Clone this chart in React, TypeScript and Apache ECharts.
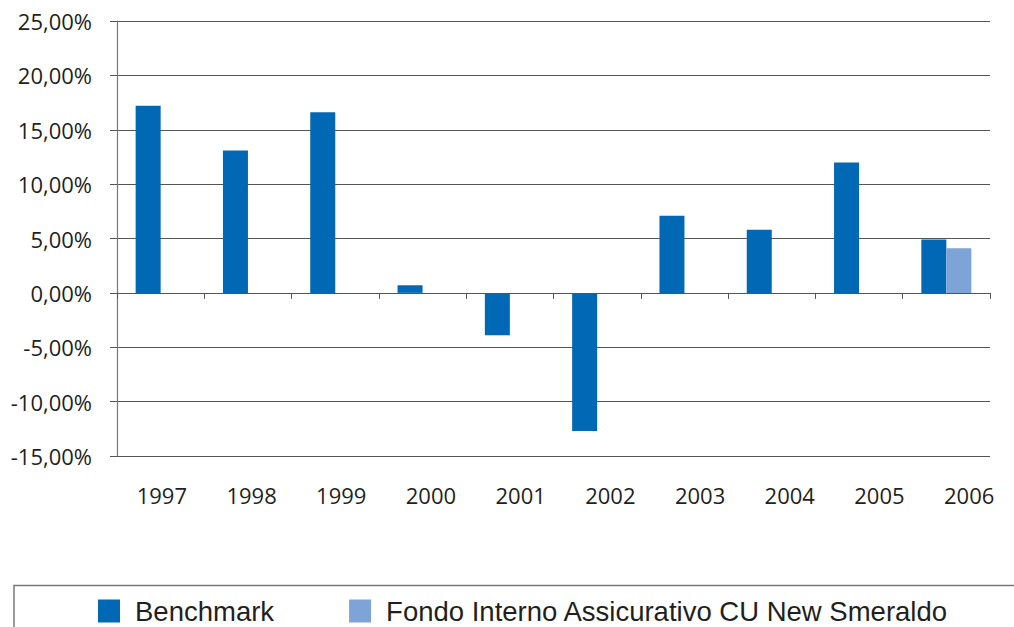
import React, { useEffect, useRef } from "react";
import * as echarts from "echarts";

const years = ["1997", "1998", "1999", "2000", "2001", "2002", "2003", "2004", "2005", "2006"];
const benchmark = [17.2, 13.1, 16.6, 0.7, -3.9, -12.7, 7.1, 5.8, 12.0, 4.9];
const fondo = [null, null, null, null, null, null, null, null, null, 4.1];
const yTicks = { min: -15, max: 25, interval: 5 };
const seriesNames = ["Benchmark", "Fondo Interno Assicurativo CU New Smeraldo"];

export default function App() {
  const ref = useRef<HTMLDivElement>(null);
  useEffect(() => {
    if (!ref.current) return;
    const chart = echarts.init(ref.current, null, { renderer: "svg" });
    const axisFont = { fontFamily: "Open Sans", fontSize: 22, color: "#231f20" };
    chart.setOption({
      animation: false,
      backgroundColor: "#ffffff",
      grid: [
        { left: 117, top: 21, right: 24, bottom: 171 },
        { left: 117, top: 21, width: 916, bottom: 171 },
      ],
      xAxis: [
        {
          type: "category",
          gridIndex: 0,
          data: years,
          axisLine: { show: true, onZero: true, lineStyle: { color: "#555555", width: 1.2 } },
          axisTick: { show: true, length: 6, alignWithLabel: false, lineStyle: { color: "#555555" } },
          axisLabel: { show: false },
          splitLine: { show: false },
        },
        {
          type: "category",
          gridIndex: 1,
          data: years,
          position: "bottom",
          axisLine: { show: false },
          axisTick: { show: false },
          axisLabel: { show: true, margin: 28, ...axisFont },
          splitLine: { show: false },
        },
      ],
      yAxis: [
        {
          type: "value",
          gridIndex: 0,
          min: yTicks.min,
          max: yTicks.max,
          interval: yTicks.interval,
          axisLine: { show: true, lineStyle: { color: "#777777", width: 1.2 } },
          axisTick: { show: true, length: 7, lineStyle: { color: "#555555" } },
          axisLabel: {
            margin: 25,
            ...axisFont,
            formatter: (v: number) => v.toFixed(2).replace(".", ",") + "%",
          },
          splitLine: { show: true, lineStyle: { color: "#555555", width: 1 } },
        },
        { type: "value", gridIndex: 1, show: false, min: 0, max: 1 },
      ],
      legend: {
        left: 98,
        top: 597,
        padding: 0,
        itemWidth: 22,
        itemHeight: 23,
        itemGap: 75,
        icon: "rect",
        data: seriesNames,
        textStyle: {
          fontFamily: "Liberation Sans",
          fontSize: 27.5,
          lineHeight: 23,
          color: "#231f20",
          padding: [0, 0, 0, 10],
        },
      },
      graphic: [
        {
          type: "rect",
          shape: { x: 14, y: 585.5, width: 1200, height: 200 },
          style: { fill: "none", stroke: "#7a7a7a", lineWidth: 1.5 },
          silent: true,
        },
      ],
      series: [
        {
          name: seriesNames[0],
          type: "bar",
          xAxisIndex: 0,
          yAxisIndex: 0,
          data: benchmark,
          barWidth: 25,
          barGap: "0%",
          itemStyle: { color: "#0068b4" },
        },
        {
          name: seriesNames[1],
          type: "bar",
          xAxisIndex: 0,
          yAxisIndex: 0,
          data: fondo,
          barWidth: 25,
          barGap: "0%",
          itemStyle: { color: "#7ea3d6" },
        },
      ],
    });
    return () => chart.dispose();
  }, []);
  return (
    <div
      ref={ref}
      style={{ position: "fixed", left: 0, top: 0, width: 1014, height: 627 }}
    />
  );
}
